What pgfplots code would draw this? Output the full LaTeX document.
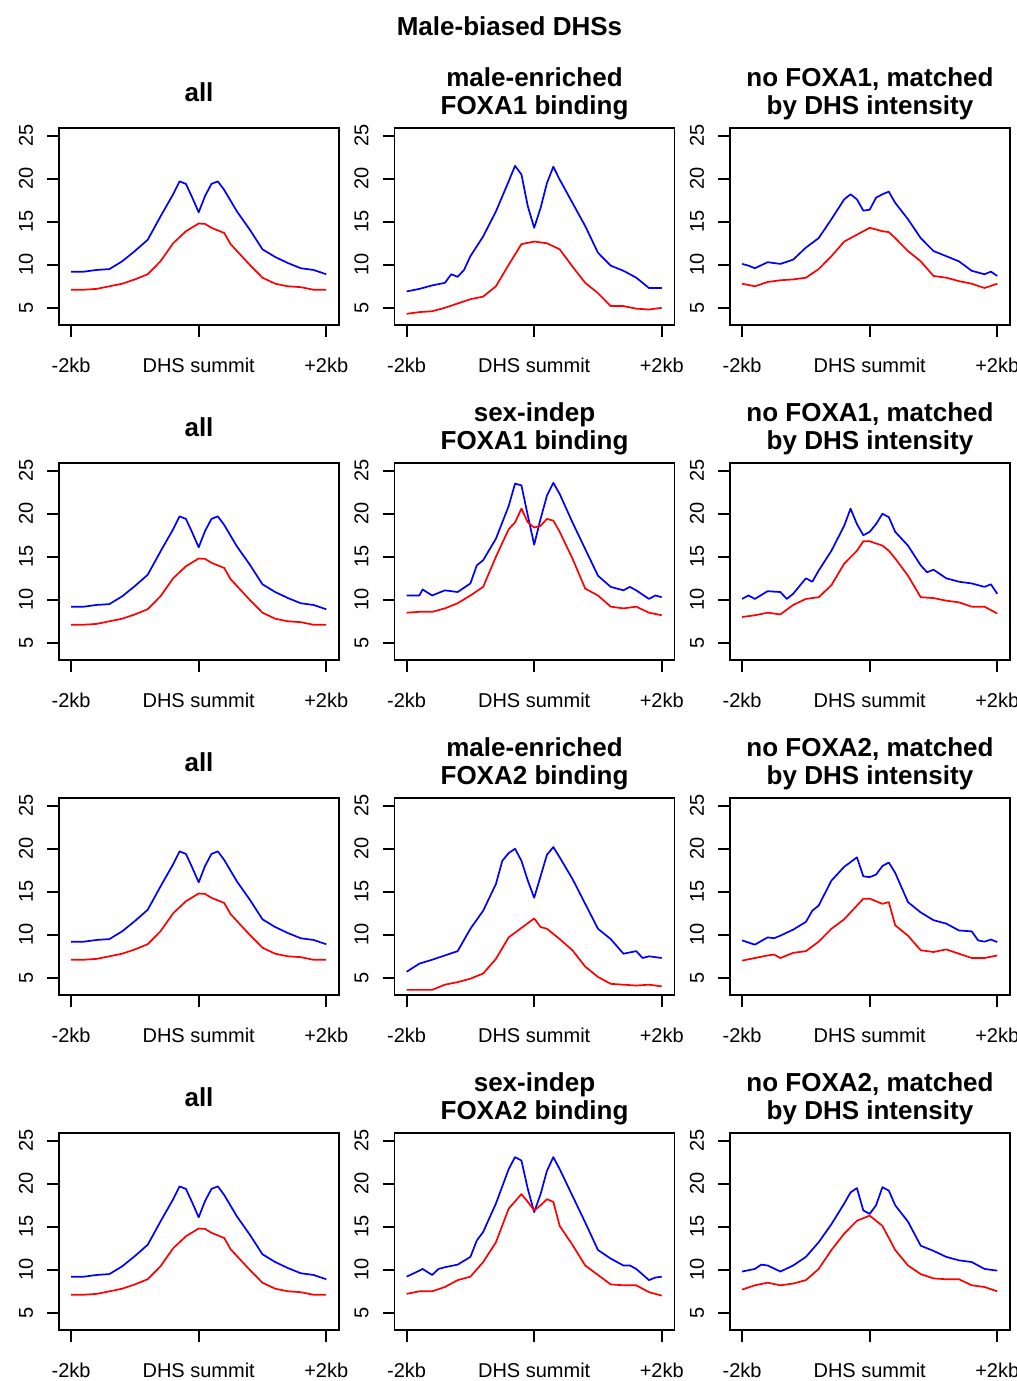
\documentclass[border=0pt]{standalone}
\usepackage{fontspec}
\setmainfont{Liberation Sans}
\usepackage{pgfplots}
\pgfplotsset{compat=1.18}
\newcommand{\tfont}{\fontsize{13}{15}\selectfont\bfseries}
\pgfplotsset{
  panel/.style={
    scale only axis, width=140pt, height=98.5pt,
    xmin=-2.19, xmax=2.2, ymin=3.0, ymax=25.9,
    anchor=north west, clip=false,
    axis line style={line width=0.9pt},
    tick style={line width=0.9pt, black},
    tick align=outside, major tick length=6pt,
    xtick={-2,0,2}, xticklabels={-2kb,DHS summit,+2kb},
    ytick={5,10,15,20,25},
    xtick pos=left, ytick pos=left,
    /pgf/number format/assume math mode=true,
    tick label style={font=\fontsize{10}{12}\selectfont},
    yticklabel style={rotate=90, anchor=south, inner sep=0pt},
    xticklabel style={anchor=north, inner sep=0pt},
    yticklabel shift=6.8pt,
    xticklabel shift=10.5pt,
  },
  bl/.style={blue, line width=0.85pt, line join=round},
  rd/.style={red, line width=0.85pt, line join=round},
}
\newcommand{\onetitle}[1]{\node[font=\tfont, anchor=base] at (rel axis cs:0.5,1) [yshift=13.5pt] {#1};}
\newcommand{\twotitle}[2]{\node[font=\tfont, anchor=base] at (rel axis cs:0.5,1) [yshift=21pt] {#1};
  \node[font=\tfont, anchor=base] at (rel axis cs:0.5,1) [yshift=7pt] {#2};}
\newcommand{\allplots}{%
  \addplot[bl] coordinates {(-2,9.2)(-1.8,9.2)(-1.6,9.4)(-1.4,9.5)(-1.2,10.4)(-1,11.6)(-0.8,12.9)(-0.6,15.6)(-0.4,18.2)(-0.3,19.7)(-0.2,19.4)(-0.1,17.8)(0,16.1)(0.1,18.0)(0.2,19.4)(0.3,19.7)(0.4,18.7)(0.6,16.2)(0.8,14.1)(1,11.8)(1.2,10.9)(1.4,10.2)(1.6,9.6)(1.8,9.4)(2,8.9)};
  \addplot[rd] coordinates {(-2,7.1)(-1.8,7.1)(-1.6,7.2)(-1.4,7.5)(-1.2,7.8)(-1,8.3)(-0.8,8.9)(-0.6,10.4)(-0.4,12.5)(-0.2,13.9)(0,14.8)(0.1,14.75)(0.2,14.3)(0.4,13.7)(0.5,12.4)(0.6,11.6)(0.8,10.0)(1,8.5)(1.2,7.8)(1.4,7.5)(1.6,7.4)(1.8,7.1)(2,7.1)};
  \onetitle{all}}
\begin{document}
\begin{tikzpicture}
\node[font=\tfont, anchor=base] at (254.75pt,-17.5pt) {Male-biased DHSs};
% ---------- row 1
\begin{axis}[panel, at={(29.5pt,-64pt)}]
\allplots
\end{axis}
\begin{axis}[panel, at={(197.25pt,-64pt)}]
\addplot[bl] coordinates {(-2,6.9)(-1.8,7.2)(-1.6,7.6)(-1.4,7.9)(-1.3,8.9)(-1.2,8.6)(-1.1,9.4)(-1,11.0)(-0.8,13.3)(-0.6,16.2)(-0.4,19.7)(-0.3,21.5)(-0.2,20.5)(-0.1,16.8)(0,14.3)(0.1,16.6)(0.2,19.5)(0.3,21.4)(0.4,19.9)(0.6,17.2)(0.8,14.5)(1,11.4)(1.2,9.9)(1.4,9.3)(1.6,8.5)(1.8,7.3)(2,7.3)};
\addplot[rd] coordinates {(-2,4.3)(-1.8,4.5)(-1.6,4.6)(-1.4,5.0)(-1.2,5.5)(-1,6.0)(-0.8,6.3)(-0.6,7.5)(-0.4,10.0)(-0.2,12.4)(0,12.7)(0.2,12.5)(0.4,11.8)(0.6,9.8)(0.8,7.9)(1,6.7)(1.2,5.2)(1.4,5.2)(1.6,4.9)(1.8,4.8)(2,5.0)};
\twotitle{male-enriched}{FOXA1 binding}
\end{axis}
\begin{axis}[panel, at={(365pt,-64pt)}]
\addplot[bl] coordinates {(-2,10.1)(-1.9,9.9)(-1.8,9.6)(-1.6,10.3)(-1.4,10.1)(-1.2,10.6)(-1,12.0)(-0.8,13.1)(-0.6,15.3)(-0.4,17.6)(-0.3,18.2)(-0.2,17.6)(-0.1,16.3)(0,16.4)(0.1,17.8)(0.2,18.2)(0.3,18.5)(0.4,17.2)(0.6,15.3)(0.8,13.1)(1,11.6)(1.2,11.0)(1.4,10.4)(1.6,9.3)(1.8,8.9)(1.9,9.2)(2,8.7)};
\addplot[rd] coordinates {(-2,7.8)(-1.8,7.5)(-1.6,8.0)(-1.4,8.2)(-1.2,8.3)(-1,8.5)(-0.8,9.5)(-0.6,11.0)(-0.4,12.7)(-0.2,13.5)(0,14.3)(0.2,13.9)(0.3,13.8)(0.4,13.1)(0.6,11.6)(0.8,10.4)(1,8.7)(1.2,8.5)(1.4,8.1)(1.6,7.8)(1.8,7.3)(2,7.8)};
\twotitle{no FOXA1, matched}{by DHS intensity}
\end{axis}
% ---------- row 2
\begin{axis}[panel, at={(29.5pt,-231.5pt)}]
\allplots
\end{axis}
\begin{axis}[panel, at={(197.25pt,-231.5pt)}]
\addplot[bl] coordinates {(-2,10.5)(-1.8,10.5)(-1.75,11.2)(-1.6,10.5)(-1.4,11.1)(-1.2,10.9)(-1,11.9)(-0.9,14.0)(-0.8,14.6)(-0.6,17.1)(-0.4,20.9)(-0.3,23.5)(-0.2,23.3)(-0.1,19.8)(0,16.4)(0.1,19.4)(0.2,22.1)(0.3,23.6)(0.4,22.3)(0.6,19.0)(0.8,15.9)(1,12.8)(1.2,11.5)(1.4,11.1)(1.5,11.5)(1.6,11.1)(1.8,10.1)(1.9,10.5)(2,10.3)};
\addplot[rd] coordinates {(-2,8.5)(-1.8,8.6)(-1.6,8.6)(-1.4,9.0)(-1.2,9.6)(-1,10.5)(-0.8,11.5)(-0.6,15.0)(-0.4,18.2)(-0.3,19.0)(-0.2,20.6)(-0.1,19.0)(0,18.4)(0.1,18.6)(0.2,19.4)(0.3,19.2)(0.4,17.9)(0.6,14.8)(0.8,11.3)(1,10.5)(1.2,9.2)(1.4,9.0)(1.6,9.2)(1.8,8.5)(2,8.2)};
\twotitle{sex-indep}{FOXA1 binding}
\end{axis}
\begin{axis}[panel, at={(365pt,-231.5pt)}]
\addplot[bl] coordinates {(-2,10.1)(-1.9,10.5)(-1.8,10.1)(-1.6,11.0)(-1.4,10.9)(-1.3,10.1)(-1.2,10.7)(-1,12.5)(-0.9,12.1)(-0.8,13.4)(-0.6,15.7)(-0.4,18.6)(-0.3,20.6)(-0.2,18.8)(-0.1,17.5)(0,17.9)(0.1,18.8)(0.2,20.0)(0.3,19.6)(0.4,17.9)(0.6,16.3)(0.8,14.0)(0.9,13.2)(1,13.5)(1.2,12.5)(1.4,12.1)(1.6,11.9)(1.8,11.5)(1.9,11.8)(2,10.7)};
\addplot[rd] coordinates {(-2,8.0)(-1.8,8.2)(-1.6,8.5)(-1.4,8.3)(-1.2,9.4)(-1,10.1)(-0.8,10.3)(-0.6,11.7)(-0.4,14.2)(-0.2,15.7)(-0.1,16.8)(0,16.8)(0.2,16.3)(0.3,15.7)(0.4,14.8)(0.6,12.8)(0.8,10.3)(1,10.2)(1.2,9.9)(1.4,9.7)(1.6,9.2)(1.8,9.2)(2,8.4)};
\twotitle{no FOXA1, matched}{by DHS intensity}
\end{axis}
% ---------- row 3
\begin{axis}[panel, at={(29.5pt,-399pt)}]
\allplots
\end{axis}
\begin{axis}[panel, at={(197.25pt,-399pt)}]
\addplot[bl] coordinates {(-2,5.7)(-1.8,6.65)(-1.6,7.1)(-1.4,7.6)(-1.2,8.1)(-1,10.7)(-0.8,12.8)(-0.6,15.9)(-0.5,18.6)(-0.4,19.5)(-0.3,20.0)(-0.2,18.6)(-0.1,16.3)(0,14.3)(0.1,16.8)(0.2,19.3)(0.3,20.2)(0.4,19.0)(0.6,16.5)(0.8,13.6)(1,10.7)(1.2,9.5)(1.4,7.8)(1.6,8.1)(1.7,7.3)(1.8,7.5)(2,7.3)};
\addplot[rd] coordinates {(-2,3.6)(-1.8,3.6)(-1.6,3.6)(-1.4,4.2)(-1.2,4.5)(-1,4.9)(-0.8,5.5)(-0.6,7.2)(-0.4,9.7)(-0.2,10.8)(0,11.9)(0.1,10.9)(0.2,10.7)(0.4,9.5)(0.6,8.2)(0.8,6.3)(1,5.1)(1.2,4.3)(1.4,4.2)(1.6,4.1)(1.8,4.2)(2,4.0)};
\twotitle{male-enriched}{FOXA2 binding}
\end{axis}
\begin{axis}[panel, at={(365pt,-399pt)}]
\addplot[bl] coordinates {(-2,9.35)(-1.8,8.85)(-1.6,9.7)(-1.5,9.6)(-1.4,9.9)(-1.2,10.6)(-1,11.5)(-0.9,12.8)(-0.8,13.4)(-0.6,16.3)(-0.4,17.9)(-0.2,19.0)(-0.1,16.8)(0,16.7)(0.1,17.0)(0.2,18.0)(0.3,18.4)(0.4,17.2)(0.6,13.8)(0.8,12.6)(1,11.7)(1.2,11.3)(1.4,10.5)(1.6,10.4)(1.7,9.35)(1.8,9.2)(1.9,9.45)(2,9.15)};
\addplot[rd] coordinates {(-2,7.0)(-1.8,7.3)(-1.6,7.6)(-1.5,7.7)(-1.4,7.3)(-1.2,7.9)(-1,8.1)(-0.8,9.2)(-0.6,10.7)(-0.4,11.8)(-0.2,13.4)(-0.1,14.2)(0,14.2)(0.2,13.6)(0.3,13.8)(0.4,11.1)(0.6,9.9)(0.8,8.2)(1,8.0)(1.2,8.3)(1.4,7.8)(1.6,7.3)(1.8,7.3)(2,7.6)};
\twotitle{no FOXA2, matched}{by DHS intensity}
\end{axis}
% ---------- row 4
\begin{axis}[panel, at={(29.5pt,-566.5pt)}]
\allplots
\end{axis}
\begin{axis}[panel, at={(197.25pt,-566.5pt)}]
\addplot[bl] coordinates {(-2,9.2)(-1.8,9.9)(-1.75,10.1)(-1.6,9.4)(-1.5,10.1)(-1.4,10.3)(-1.2,10.6)(-1,11.5)(-0.9,13.4)(-0.8,14.4)(-0.6,17.7)(-0.4,21.7)(-0.3,23.1)(-0.2,22.7)(-0.1,19.4)(0,16.7)(0.1,18.8)(0.2,21.5)(0.3,23.1)(0.4,21.7)(0.6,18.6)(0.8,15.5)(1,12.3)(1.2,11.3)(1.4,10.5)(1.5,10.5)(1.6,10.1)(1.8,8.8)(1.9,9.1)(2,9.2)};
\addplot[rd] coordinates {(-2,7.2)(-1.8,7.5)(-1.6,7.5)(-1.4,8.0)(-1.2,8.8)(-1,9.2)(-0.8,10.9)(-0.6,13.2)(-0.4,17.1)(-0.2,18.8)(-0.1,17.9)(0,16.9)(0.1,17.5)(0.2,18.2)(0.3,17.9)(0.4,15.1)(0.6,12.9)(0.8,10.5)(1,9.4)(1.2,8.3)(1.4,8.2)(1.6,8.2)(1.8,7.4)(2,7.0)};
\twotitle{sex-indep}{FOXA2 binding}
\end{axis}
\begin{axis}[panel, at={(365pt,-566.5pt)}]
\addplot[bl] coordinates {(-2,9.8)(-1.8,10.1)(-1.7,10.6)(-1.6,10.5)(-1.4,9.8)(-1.2,10.5)(-1,11.5)(-0.8,13.2)(-0.6,15.3)(-0.4,17.7)(-0.3,19.0)(-0.2,19.5)(-0.1,16.9)(0,16.5)(0.1,17.5)(0.2,19.6)(0.3,19.2)(0.4,17.5)(0.6,15.6)(0.8,12.8)(1,12.2)(1.2,11.5)(1.4,11.1)(1.6,10.9)(1.8,10.1)(2,9.9)};
\addplot[rd] coordinates {(-2,7.7)(-1.8,8.2)(-1.6,8.5)(-1.4,8.2)(-1.2,8.4)(-1,8.8)(-0.8,10.1)(-0.6,12.3)(-0.4,14.2)(-0.2,15.7)(0,16.3)(0.2,15.1)(0.4,12.3)(0.6,10.5)(0.8,9.5)(1,9.0)(1.2,8.9)(1.4,8.9)(1.6,8.2)(1.8,8.0)(2,7.5)};
\twotitle{no FOXA2, matched}{by DHS intensity}
\end{axis}
\pgfresetboundingbox
\path (0,0) rectangle (508.5pt,-690.5pt);
\end{tikzpicture}
\end{document}
